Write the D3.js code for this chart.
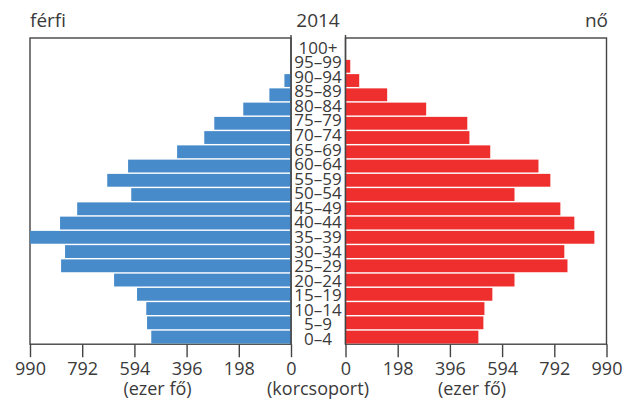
<!DOCTYPE html>
<html>
<head>
<meta charset="utf-8">
<script src="https://cdn.jsdelivr.net/npm/d3@7"></script>
<style>
html,body{margin:0;padding:0;background:#fff;}
svg{display:block;font-family:"Open Sans",sans-serif;}
</style>
</head>
<body>
<svg id="chart" width="633" height="400"></svg>
<script>
const ageGroups = ["0–4","5–9","10–14","15–19","20–24","25–29","30–34","35–39","40–44","45–49","50–54","55–59","60–64","65–69","70–74","75–79","80–84","85–89","90–94","95–99","100+"];
const maleValues   = [530,546,549,584,671,872,857,990,876,811,606,697,618,432,329,291,181,82,25,1,0];
const femaleValues = [504,523,527,557,641,842,830,944,868,815,641,777,732,549,470,462,306,158,52,18,0];
const tickValues = [0,198,396,594,792,990];
const title = "2014", leftLabel = "férfi", rightLabel = "nő";
const unitLabel = "(ezer fő)", ageLabel = "(korcsoport)";

const svg = d3.select("#chart");
const frameTop = 38, frameBottom = 344.2;
const xL = d3.scaleLinear().domain([990,0]).range([30,291]);
const xR = d3.scaleLinear().domain([0,990]).range([345.5,606.5]);
const y = d3.scaleBand().domain(ageGroups.slice().reverse()).range([44.9,344.2]).paddingInner(0.1).paddingOuter(0.05);
const yLab = d3.scalePoint().domain(ageGroups.slice().reverse()).range([47.5,339]);

const blue = "#478bca", red = "#ee2f2e", ink = "#3a3a3a", frame = "#444";

// frames
[[xL,30,291],[xR,345.5,606.5]].forEach(([s,a,b])=>{
  svg.append("rect").attr("x",a).attr("y",frameTop).attr("width",b-a).attr("height",frameBottom-frameTop)
    .attr("fill","none").attr("stroke",frame).attr("stroke-width",1.4);
});

// bars
svg.append("g").selectAll("rect").data(ageGroups).join("rect")
  .attr("x",(d,i)=>xL(maleValues[i])).attr("y",d=>y(d))
  .attr("width",(d,i)=>xL(0)-xL(maleValues[i])).attr("height",y.bandwidth())
  .attr("fill",blue);
svg.append("g").selectAll("rect").data(ageGroups).join("rect")
  .attr("x",xR(0)).attr("y",d=>y(d))
  .attr("width",(d,i)=>xR(femaleValues[i])-xR(0)).attr("height",y.bandwidth())
  .attr("fill",red);

// center axis lines
[291,345.5].forEach(x=>{
  svg.append("line").attr("x1",x).attr("x2",x).attr("y1",35).attr("y2",frameBottom)
    .attr("stroke",frame).attr("stroke-width",1.4);
});

// age labels
svg.append("g").selectAll("text").data(ageGroups).join("text")
  .attr("x",318).attr("y",d=>yLab(d)+6).attr("text-anchor","middle")
  .attr("font-size",17).attr("fill",ink).text(d=>d);

// bottom axes
function axis(scale){
  const g = svg.append("g").attr("transform",`translate(0,${frameBottom})`)
    .call(d3.axisBottom(scale).tickValues(tickValues).tickSize(13).tickSizeOuter(0).tickPadding(4).tickFormat(d3.format("d")));
  g.select(".domain").remove();
  g.selectAll(".tick line").attr("stroke",frame).attr("stroke-width",1.4);
  g.selectAll(".tick text").attr("font-size",18).attr("fill",ink).attr("font-family","Open Sans, sans-serif").attr("dy","0.75em");
}
axis(xL); axis(xR);

// titles
svg.append("text").attr("x",30).attr("y",27).attr("font-size",19).attr("fill",ink).text(leftLabel);
svg.append("text").attr("x",318).attr("y",27).attr("font-size",19).attr("fill",ink).attr("text-anchor","middle").text(title);
svg.append("text").attr("x",608).attr("y",27).attr("font-size",19).attr("fill",ink).attr("text-anchor","end").text(rightLabel);

svg.append("text").attr("x",157.5).attr("y",395).attr("font-size",18).attr("fill",ink).attr("text-anchor","middle").text(unitLabel);
svg.append("text").attr("x",318).attr("y",395).attr("font-size",18).attr("fill",ink).attr("text-anchor","middle").text(ageLabel);
svg.append("text").attr("x",472).attr("y",395).attr("font-size",18).attr("fill",ink).attr("text-anchor","middle").text(unitLabel);
</script>
</body>
</html>
